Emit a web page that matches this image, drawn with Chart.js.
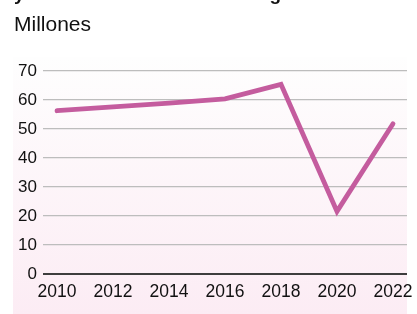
<!DOCTYPE html>
<html>
<head>
<meta charset="utf-8">
<script src="https://cdn.jsdelivr.net/npm/chart.js@4/dist/chart.umd.min.js"></script>
<style>
html,body{margin:0;padding:0;background:#fff;}
#wrap{position:relative;width:417px;height:314px;overflow:hidden;}
canvas{display:block;}
</style>
</head>
<body>
<div id="wrap"><canvas id="c" width="417" height="314"></canvas></div>
<script>
const titleText = "y turistas internacionales llegados";
const subtitleText = "Millones";
const years = [2010, 2012, 2014, 2016, 2018, 2020, 2022];
const values = [56.3, 57.6, 58.9, 60.4, 65.4, 21.6, 51.8];
const yTicks = [0, 10, 20, 30, 40, 50, 60, 70];
const xTicks = [2010, 2012, 2014, 2016, 2018, 2020, 2022];

const FONT = "'Liberation Sans', Arial, Helvetica, sans-serif";

const bgPlugin = {
  id: 'bg',
  beforeDraw(chart) {
    const ctx = chart.ctx;
    ctx.save();
    const g = ctx.createLinearGradient(0, 57, 0, 314);
    g.addColorStop(0, '#fefefe');
    g.addColorStop(1, '#fcecf4');
    ctx.fillStyle = g;
    ctx.fillRect(13, 57, 394, 257);
    ctx.fillStyle = '#111';
    ctx.textBaseline = 'alphabetic';
    ctx.textAlign = 'left';
    ctx.font = "bold 19px " + FONT;
    ctx.fillText(titleText, 14, -0.5);
    ctx.font = "21px " + FONT;
    ctx.fillText(subtitleText, 14, 31);
    ctx.restore();
  }
};

new Chart(document.getElementById('c'), {
  type: 'line',
  data: {
    datasets: [{
      data: years.map((y, i) => ({x: y, y: values[i]})),
      borderColor: '#c45c9e',
      borderWidth: 4.8,
      borderCapStyle: 'round',
      borderJoinStyle: 'miter',
      pointRadius: 0,
      tension: 0,
      fill: false
    }]
  },
  options: {
    responsive: false,
    animation: false,
    layout: {padding: {top: 71, left: 0, right: 10, bottom: 0}},
    plugins: {legend: {display: false}, tooltip: {enabled: false}},
    scales: {
      x: {
        type: 'linear',
        min: 2009.5,
        max: 2022.5,
        afterBuildTicks: s => { s.ticks = xTicks.map(v => ({value: v})); },
        afterFit: s => { s.height = 40; s.paddingLeft = 0; s.paddingRight = 0; },
        grid: {display: false, drawTicks: false},
        border: {display: false},
        ticks: {
          padding: 8,
          color: '#111',
          font: {family: FONT, size: 17.5},
          maxRotation: 0,
          autoSkip: false,
          callback: v => String(v)
        }
      },
      y: {
        min: 0,
        max: 70,
        afterBuildTicks: s => { s.ticks = yTicks.map(v => ({value: v})); },
        afterFit: s => { s.width = 43; },
        grid: {
          drawTicks: false,
          color: c => c.tick && c.tick.value === 0 ? '#3d3d3d' : '#bdbdbd',
          lineWidth: c => c.tick && c.tick.value === 0 ? 2 : 1.2
        },
        border: {display: false},
        ticks: {
          padding: 6,
          color: '#111',
          font: {family: FONT, size: 17}
        }
      }
    }
  },
  plugins: [bgPlugin]
});
</script>
</body>
</html>
